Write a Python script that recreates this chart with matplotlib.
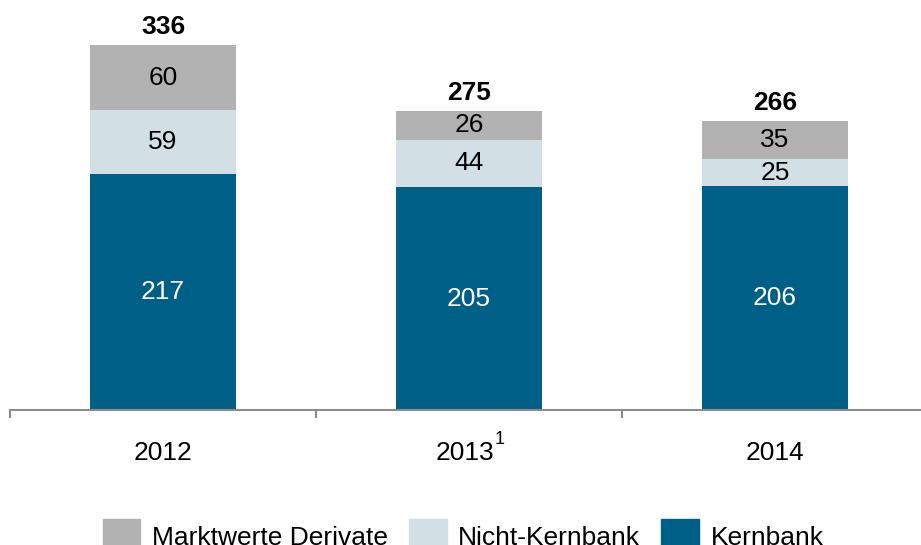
import matplotlib.pyplot as plt
import numpy as np
from matplotlib.patches import Patch
from matplotlib.transforms import ScaledTranslation

# Werte in Mrd. EUR
jahre = ["2012", "2013", "2014"]
kernbank = [217, 205, 206]
nicht_kernbank = [59, 44, 25]
derivate = [60, 26, 35]
summen = [336, 275, 266]
fussnote = {1: "1"}  # Fußnote am Jahr 2013

farbe_kern = "#005f87"
farbe_nicht_kern = "#d2dfe5"
farbe_derivate = "#b2b2b2"

plt.rcParams["font.family"] = ["Liberation Sans", "DejaVu Sans"]
fs = 19

fig = plt.figure(figsize=(9.21, 5.45), dpi=100)
ax = fig.add_axes([10 / 921, 135 / 545, 918 / 921, 410 / 545])

x = np.arange(len(jahre))
breite = 0.48
kern = np.array(kernbank)
nicht = np.array(nicht_kernbank)
deriv = np.array(derivate)

ax.bar(x, kern, breite, color=farbe_kern)
ax.bar(x, nicht, breite, bottom=kern, color=farbe_nicht_kern)
ax.bar(x, deriv, breite, bottom=kern + nicht, color=farbe_derivate)

# Beschriftung der Segmente
for i in range(len(jahre)):
    ax.text(x[i], kern[i] / 2, str(kern[i]), ha="center", va="center",
            color="white", fontsize=fs)
    ax.text(x[i], kern[i] + nicht[i] / 2, str(nicht[i]), ha="center",
            va="center", color="black", fontsize=fs)
    ax.text(x[i], kern[i] + nicht[i] + deriv[i] / 2, str(deriv[i]),
            ha="center", va="center", color="black", fontsize=fs)
    ax.annotate(str(summen[i]), (x[i], summen[i]), xytext=(0, 13),
                textcoords="offset points", ha="center", va="center",
                fontsize=fs, fontweight="bold")

ax.set_xlim(-0.5, 2.5)
ax.set_ylim(0, 410 / 1.086)

for s in ["top", "right", "left"]:
    ax.spines[s].set_visible(False)
ax.spines["bottom"].set_color("#8c8c8c")
ax.spines["bottom"].set_linewidth(1.5)
ax.set_yticks([])

ax.set_xticks(x)
ax.set_xticklabels(jahre, fontsize=fs)
ax.tick_params(axis="x", which="major", length=0, pad=22)
ax.set_xticks([-0.5, 0.5, 1.5, 2.5], minor=True)
ax.tick_params(axis="x", which="minor", length=6, width=1.5,
               color="#8c8c8c", direction="out")

# Jahr mit Fußnote etwas nach links, damit Zahl + Hochzahl mittig stehen
for i, txt in fussnote.items():
    lbl = ax.get_xticklabels()[i]
    lbl.set_transform(lbl.get_transform()
                      + ScaledTranslation(-4 / 100, 0, fig.dpi_scale_trans))
    ax.annotate(txt, (x[i], 0), xycoords=("data", "axes fraction"),
                xytext=(18.5, -21.6), textcoords="offset points",
                ha="left", va="center", fontsize=13)

handles = [
    Patch(color=farbe_derivate, label="Marktwerte Derivate"),
    Patch(color=farbe_nicht_kern, label="Nicht-Kernbank"),
    Patch(color=farbe_kern, label="Kernbank"),
]
fig.legend(handles=handles, loc="upper left", ncol=3, frameon=False,
           bbox_to_anchor=(103 / 921, 1 - 519 / 545), fontsize=fs,
           handlelength=1.42, handleheight=1.6, handletextpad=0.44,
           columnspacing=0.8, borderpad=0, borderaxespad=0)

fig.savefig("out.png", dpi=100)
